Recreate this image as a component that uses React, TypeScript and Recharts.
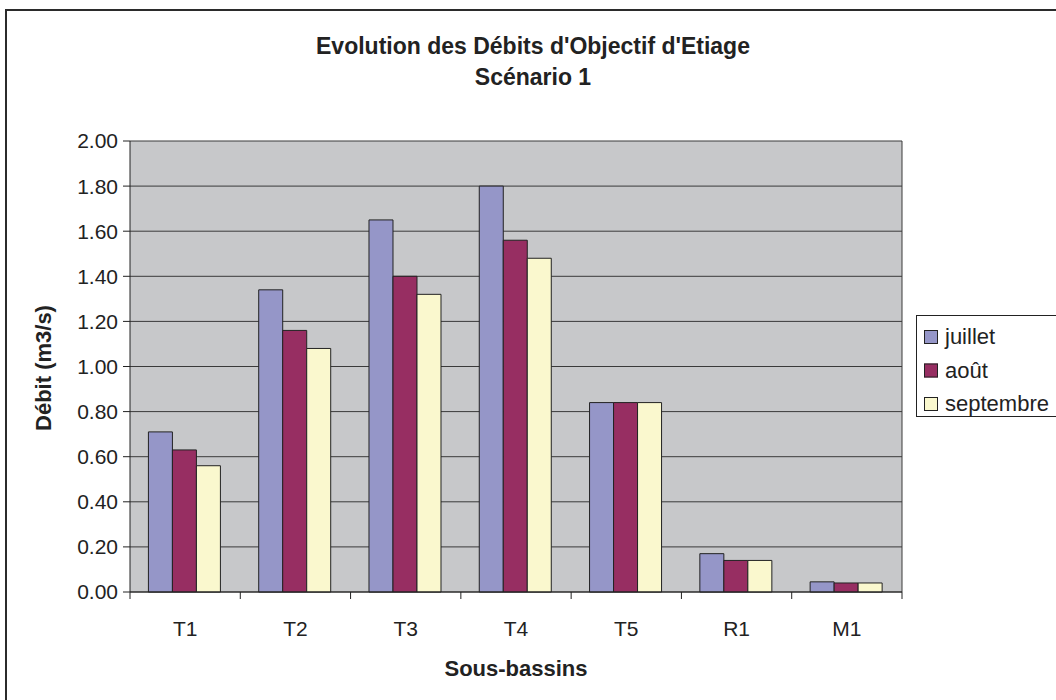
import React from 'react';
import { BarChart, Bar, XAxis, YAxis, CartesianGrid, Legend } from 'recharts';

const categories = ['T1', 'T2', 'T3', 'T4', 'T5', 'R1', 'M1'];
const juillet = [0.71, 1.34, 1.65, 1.8, 0.84, 0.17, 0.045];
const aout = [0.63, 1.16, 1.4, 1.56, 0.84, 0.14, 0.04];
const septembre = [0.56, 1.08, 1.32, 1.48, 0.84, 0.14, 0.04];
const yTicks = [0, 0.2, 0.4, 0.6, 0.8, 1.0, 1.2, 1.4, 1.6, 1.8, 2.0];

const seriesNames = ['juillet', 'août', 'septembre'];
const seriesColors = ['#9596c8', '#972e62', '#faf8ce'];

const data = categories.map((c, i) => ({
  name: c,
  juillet: juillet[i],
  aout: aout[i],
  septembre: septembre[i],
}));

const FONT = '"Liberation Sans", Arial, Helvetica, sans-serif';
const TEXT = '#222';

const XTick = (props: any) => {
  const { x, y, payload, index, visibleTicksCount } = props;
  const off = payload.offset || 0;
  const last = index === (visibleTicksCount ?? categories.length) - 1;
  return (
    <g>
      <line x1={x - off} x2={x - off} y1={y - 7} y2={y} stroke={TEXT} strokeWidth={1} />
      {last && <line x1={x + off} x2={x + off} y1={y - 7} y2={y} stroke={TEXT} strokeWidth={1} />}
      <text x={x} y={y + 37} textAnchor="middle" fontFamily={FONT} fontSize={21} fill={TEXT}>
        {payload.value}
      </text>
    </g>
  );
};

const LegendBox = () => (
  <div
    style={{
      position: 'absolute',
      left: 916,
      top: 315,
      width: 160,
      height: 102,
      border: '1px solid #222',
      background: '#fff',
      boxSizing: 'border-box',
      fontFamily: FONT,
      fontSize: 22,
      color: TEXT,
    }}
  >
    {seriesNames.map((n, i) => (
      <div key={n} style={{ position: 'absolute', left: 7, top: 9, height: 24, transform: `translateY(${i * 33.5}px)`, display: 'flex', alignItems: 'center' }}>
        <div style={{ width: 14, height: 14, background: seriesColors[i], border: '1px solid #222', boxSizing: 'border-box', marginRight: 7 }} />
        <span style={{ lineHeight: '24px' }}>{n}</span>
      </div>
    ))}
  </div>
);

export default function App() {
  return (
    <div style={{ position: 'absolute', left: 0, top: 0, width: 1056, height: 700, background: '#fff', overflow: 'hidden', fontFamily: FONT }}>
      <div style={{ position: 'absolute', left: 5, top: 9, width: 1200, height: 900, border: '2px solid #2b2b2b' }} />
      <div style={{ position: 'absolute', left: 0, top: 31, width: 1056, textAlign: 'center', fontWeight: 'bold', fontSize: 23, lineHeight: '31px', color: TEXT }}>
        <div style={{ paddingLeft: 10 }}>Evolution des Débits d'Objectif d'Etiage</div>
        <div style={{ paddingLeft: 10 }}>Scénario 1</div>
      </div>
      <BarChart
        width={1056}
        height={700}
        data={data}
        margin={{ top: 141, right: 154, bottom: 48, left: 0 }}
        barCategoryGap="16.7%"
        barGap={0}
        style={{ position: 'absolute', left: 0, top: 0 }}
      >
        <CartesianGrid
          vertical={true}
          verticalCoordinatesGenerator={(p: any) => [p.offset.left + p.offset.width]}
          stroke="#3a3a3a"
          fill="#c7c8ca"
          fillOpacity={1}
        />
        <XAxis
          dataKey="name"
          tickLine={false}
          tickSize={7}
          tickMargin={0}
          height={60}
          axisLine={{ stroke: TEXT }}
          tick={<XTick />}
          interval={0}
        />
        <YAxis
          width={130}
          domain={[0, 2]}
          ticks={yTicks}
          interval={0}
          tickFormatter={(v: number) => v.toFixed(2)}
          tickSize={7}
          tickMargin={5}
          axisLine={{ stroke: TEXT }}
          tickLine={{ stroke: TEXT }}
          tick={{ fill: TEXT, fontSize: 21, fontFamily: FONT }}
        />
        <Legend content={() => null} />
        <Bar dataKey="juillet" name="juillet" fill={seriesColors[0]} stroke="#222" strokeWidth={1} isAnimationActive={false} />
        <Bar dataKey="aout" name="août" fill={seriesColors[1]} stroke="#222" strokeWidth={1} isAnimationActive={false} />
        <Bar dataKey="septembre" name="septembre" fill={seriesColors[2]} stroke="#222" strokeWidth={1} isAnimationActive={false} />
      </BarChart>
      <LegendBox />
      <div
        style={{
          position: 'absolute',
          left: 44,
          top: 368,
          transform: 'translate(-50%, -50%) rotate(-90deg)',
          whiteSpace: 'nowrap',
          fontWeight: 'bold',
          fontSize: 22,
          color: TEXT,
        }}
      >
        Débit (m3/s)
      </div>
      <div
        style={{
          position: 'absolute',
          left: 516,
          top: 669,
          transform: 'translate(-50%, -50%)',
          whiteSpace: 'nowrap',
          fontWeight: 'bold',
          fontSize: 22,
          color: TEXT,
        }}
      >
        Sous-bassins
      </div>
    </div>
  );
}
